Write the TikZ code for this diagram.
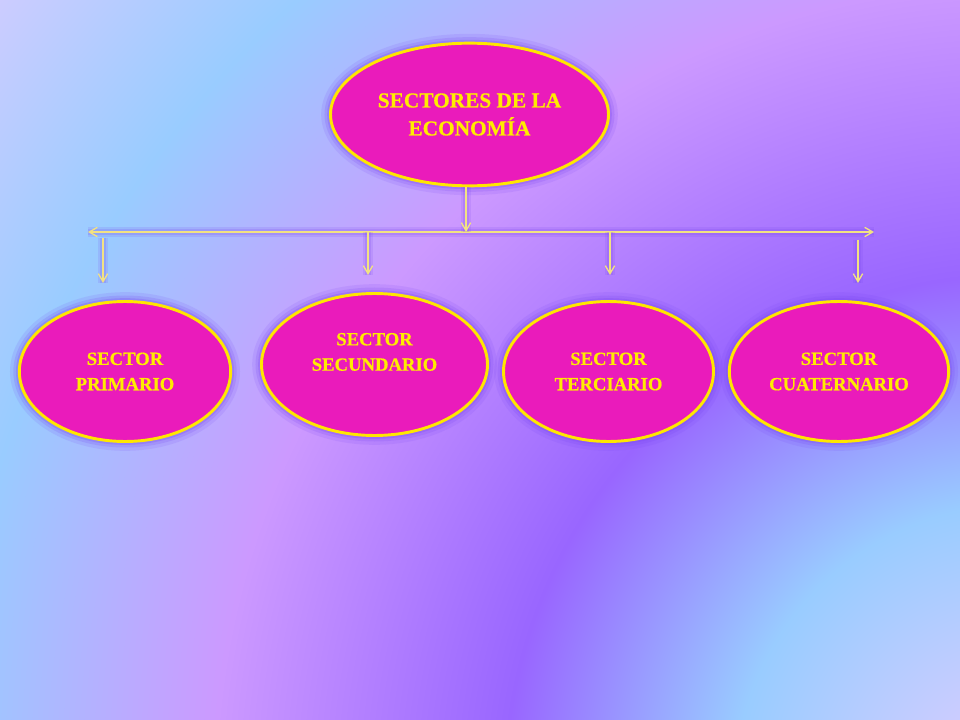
\documentclass[tikz,border=0pt]{standalone}
\usepackage{fontspec}
\setmainfont{Liberation Serif}[BoldFeatures={FakeBold=0.6}]
\usetikzlibrary{shapes.geometric,arrows.meta}
\definecolor{sectorfill}{RGB}{234,27,187}
\definecolor{sectorline}{RGB}{255,230,0}
\definecolor{sectortext}{RGB}{255,236,0}
\definecolor{linkline}{RGB}{242,226,130}
\definecolor{glowviolet}{RGB}{120,70,240}
\newcommand{\myfonttitle}{\fontsize{16}{21}\selectfont\bfseries}
\newcommand{\myfontsector}{\fontsize{14}{19}\selectfont\bfseries}
%Background of the slide
\pgfdeclareradialshading{slidebg}{\pgfpoint{0bp}{0bp}}{%
	rgb(0bp)=(0.8,0.8,1);
	rgb(1.7bp)=(0.8,0.8,1);
	rgb(5.5bp)=(0.6,0.8,1);
	rgb(9.9bp)=(0.6,0.4,1);
	rgb(15.5bp)=(0.8,0.6,1);
	rgb(20.6bp)=(0.6,0.8,1);
	rgb(24.8bp)=(0.8,0.8,1);
	rgb(50bp)=(0.8,0.8,1)}
\begin{document}
\begin{tikzpicture}[x=0.75pt,y=-0.75pt,
	>={Straight Barb[length=6pt,width=7pt]},
	sector/.style={ellipse,draw=sectorline,line width=2.2pt,fill=sectorfill,
		text=sectortext,align=center,font=\myfontsector,
		preaction={draw=glowviolet,line width=14pt,draw opacity=0.13},
		preaction={draw=glowviolet,line width=9pt,draw opacity=0.18},
		preaction={draw=glowviolet,line width=5pt,draw opacity=0.25}},
	link/.style={draw=linkline,line width=1pt,
		preaction={draw=glowviolet,line width=8pt,draw opacity=0.14,arrows=-},
		preaction={draw=glowviolet,line width=4pt,draw opacity=0.18,arrows=-}}]
	\useasboundingbox (0,0) rectangle (960,720);
	\begin{scope}
		\clip (0,0) rectangle (960,720);
		\shade[shading=slidebg] (1020,790) circle (1300);
	\end{scope}
	%Top of the tree
	\node [sector,font=\myfonttitle,minimum width=208.5pt,minimum height=107pt] (eco) at (469.5,114.5) {SECTORES DE LA\\ECONOMÍA};
	%The four sectors
	\node [sector,minimum width=158.5pt,minimum height=105pt] (pri) at (125,371.5) {SECTOR\\PRIMARIO};
	\node [sector,minimum width=169.5pt,minimum height=106.5pt] (sec) at (374.5,364.5) {SECTOR\\SECUNDARIO\\\mbox{}};
	\node [sector,minimum width=157.5pt,minimum height=105pt] (ter) at (608.5,371.5) {SECTOR\\TERCIARIO};
	\node [sector,minimum width=164.5pt,minimum height=105pt] (cua) at (839,371.5) {SECTOR\\CUATERNARIO};
	%The bar with the two arrows
	\coordinate (barL) at (88,232);
	\coordinate (barR) at (874,232);
	\draw [link,<->] (barL) -- (barR);
	\draw [link,->] ([xshift=-2.6pt]eco.south) -- ([xshift=-2.6pt]eco.south |- barL);
	%Arrows going down
	\foreach \name/\xpos/\ytop/\ybot in {pri/103/238/283,sec/368/232/275,ter/610/232/275,cua/858/240/283} {
		\coordinate (drop\name) at (\xpos,\ytop);
		\coordinate (land\name) at (\xpos,\ybot);
		\draw [link,->] (drop\name) -- (land\name);
	}
\end{tikzpicture}
\end{document}
